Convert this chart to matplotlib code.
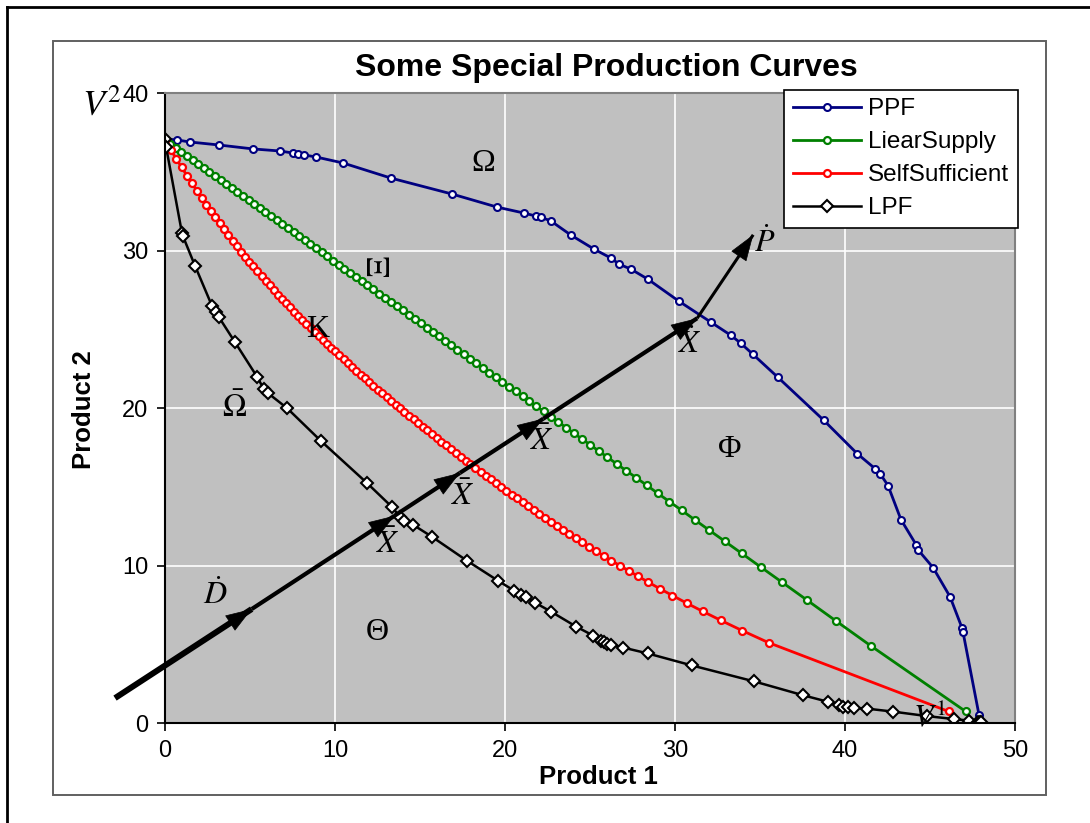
import matplotlib
matplotlib.use('Agg')
import matplotlib.pyplot as plt
from matplotlib.lines import Line2D
from matplotlib.patches import Rectangle

plt.rcParams['font.family'] = ['Liberation Sans', 'DejaVu Sans']
plt.rcParams['mathtext.fontset'] = 'stix'

# PPF (navy)
ppf_x = [0.0, 0.71, 1.47, 3.18, 5.18, 6.76, 7.53, 7.82, 8.18, 8.88, 10.47, 13.29, 16.88, 19.53,
         21.12, 21.82, 22.12, 22.71, 23.88, 25.24, 26.24, 26.71, 27.41, 28.41, 30.24, 32.12,
         33.29, 33.88, 34.59, 36.06, 38.76, 40.71, 41.76, 42.06, 42.53, 43.29, 44.18, 44.29,
         45.18, 46.18, 46.88, 46.94, 47.88]
ppf_y = [37.08, 37.02, 36.89, 36.70, 36.45, 36.32, 36.19, 36.13, 36.07, 35.94, 35.56, 34.60,
         33.59, 32.76, 32.38, 32.19, 32.12, 31.87, 30.98, 30.09, 29.52, 29.14, 28.82, 28.18,
         26.78, 25.45, 24.62, 24.11, 23.41, 21.95, 19.22, 17.12, 16.17, 15.85, 15.09, 12.93,
         11.34, 11.02, 9.88, 8.03, 6.06, 5.80, 0.55]

# LiearSupply (green)
lin_x = [0.0, 0.30, 0.63, 0.96, 1.29, 1.62, 1.95, 2.28, 2.61, 2.94, 3.27, 3.60, 3.93, 4.26, 4.59,
         4.92, 5.25, 5.58, 5.91, 6.24, 6.57, 6.90, 7.23, 7.56, 7.89, 8.22, 8.55, 8.88, 9.21,
         9.54, 9.87, 10.21, 10.55, 10.89, 11.23, 11.57, 11.91, 12.25, 12.59, 12.93, 13.28,
         13.63, 13.98, 14.33, 14.68, 15.03, 15.39, 15.75, 16.11, 16.47, 16.83, 17.20, 17.57,
         17.94, 18.31, 18.69, 19.07, 19.45, 19.84, 20.23, 20.63, 21.03, 21.44, 21.85, 22.27,
         22.70, 23.14, 23.59, 24.05, 24.52, 25.00, 25.50, 26.02, 26.56, 27.12, 27.71, 28.33,
         28.98, 29.67, 30.40, 31.18, 32.02, 32.93, 33.93, 35.04, 36.30, 37.75, 39.45, 41.50,
         47.10]
lin_y = [37.0, 36.77, 36.51, 36.26, 36.00, 35.75, 35.49, 35.24, 34.98, 34.73, 34.47, 34.22,
         33.96, 33.71, 33.45, 33.20, 32.94, 32.69, 32.43, 32.18, 31.92, 31.67, 31.41, 31.16,
         30.90, 30.65, 30.39, 30.14, 29.88, 29.63, 29.37, 29.11, 28.85, 28.58, 28.32, 28.06,
         27.80, 27.53, 27.27, 27.01, 26.74, 26.47, 26.20, 25.93, 25.66, 25.38, 25.11, 24.83,
         24.55, 24.27, 23.99, 23.71, 23.42, 23.14, 22.85, 22.56, 22.26, 21.97, 21.67, 21.37,
         21.06, 20.75, 20.43, 20.11, 19.79, 19.46, 19.12, 18.77, 18.41, 18.05, 17.68, 17.29,
         16.89, 16.47, 16.04, 15.59, 15.11, 14.60, 14.07, 13.51, 12.90, 12.25, 11.55, 10.78,
         9.92, 8.95, 7.83, 6.51, 4.93, 0.75]

# SelfSufficient (red)
self_x = [0.0, 0.33, 0.66, 0.98, 1.29, 1.59, 1.88, 2.16, 2.43, 2.70, 2.96, 3.22, 3.48, 3.73,
          3.98, 4.23, 4.48, 4.72, 4.96, 5.20, 5.44, 5.68, 5.92, 6.16, 6.40, 6.64, 6.88, 7.12,
          7.36, 7.60, 7.84, 8.08, 8.32, 8.56, 8.80, 9.04, 9.28, 9.52, 9.76, 10.00, 10.25,
          10.50, 10.75, 11.00, 11.25, 11.50, 11.75, 12.00, 12.26, 12.52, 12.78, 13.04, 13.30,
          13.56, 13.82, 14.08, 14.35, 14.62, 14.89, 15.16, 15.43, 15.70, 15.98, 16.26, 16.54,
          16.82, 17.10, 17.39, 17.68, 17.97, 18.26, 18.56, 18.86, 19.16, 19.46, 19.77, 20.08,
          20.39, 20.71, 21.03, 21.35, 21.68, 22.01, 22.35, 22.69, 23.04, 23.40, 23.77, 24.15,
          24.54, 24.94, 25.36, 25.80, 26.26, 26.75, 27.27, 27.83, 28.44, 29.11, 29.85, 30.68,
          31.62, 32.70, 33.96, 35.50, 46.10]
self_y = [37.0, 36.41, 35.83, 35.28, 34.76, 34.26, 33.79, 33.35, 32.92, 32.51, 32.11, 31.72,
          31.34, 30.98, 30.63, 30.28, 29.94, 29.62, 29.30, 28.99, 28.68, 28.38, 28.08, 27.79,
          27.50, 27.21, 26.93, 26.66, 26.39, 26.12, 25.85, 25.59, 25.34, 25.08, 24.83, 24.58,
          24.33, 24.08, 23.84, 23.60, 23.35, 23.10, 22.86, 22.62, 22.37, 22.13, 21.89, 21.66,
          21.42, 21.17, 20.94, 20.70, 20.46, 20.23, 19.99, 19.77, 19.53, 19.30, 19.06, 18.82,
          18.59, 18.36, 18.12, 17.88, 17.64, 17.40, 17.16, 16.92, 16.67, 16.44, 16.21, 15.96,
          15.72, 15.48, 15.24, 15.00, 14.76, 14.52, 14.27, 14.03, 13.79, 13.54, 13.29, 13.04,
          12.79, 12.54, 12.28, 12.02, 11.76, 11.48, 11.21, 10.93, 10.63, 10.33, 10.01, 9.68,
          9.33, 8.95, 8.54, 8.11, 7.63, 7.11, 6.53, 5.88, 5.12, 0.75]

# LPF (black diamonds)
lpf_x = [0.0, 0.06, 1.0, 1.06, 1.76, 2.76, 3.0, 3.18, 4.12, 5.41, 5.82, 6.06, 7.18, 9.18, 11.88,
         13.35, 13.82, 14.06, 14.59, 15.7, 17.76, 19.59, 20.53, 20.94, 21.24, 21.76, 22.7,
         24.18, 25.18, 25.65, 25.82, 26.0, 26.24, 26.94, 28.41, 31.0, 34.65, 37.5, 38.98,
         39.67, 39.9, 40.2, 40.53, 41.3, 42.84, 44.8, 46.4, 47.3, 47.8, 47.94, 48.0]
lpf_y = [37.1, 36.6, 31.1, 30.9, 29.05, 26.5, 26.1, 25.76, 24.18, 22.0, 21.2, 20.95, 20.0, 17.91,
         15.25, 13.73, 13.1, 12.85, 12.6, 11.84, 10.32, 9.05, 8.42, 8.16, 8.04, 7.66, 7.09,
         6.14, 5.57, 5.25, 5.13, 5.06, 5.0, 4.81, 4.43, 3.67, 2.66, 1.79, 1.37, 1.16, 1.06,
         1.01, 0.99, 0.93, 0.74, 0.46, 0.27, 0.17, 0.10, 0.06, 0.08]

# growth path arrow (D -> X -> P), each segment ends in an arrowhead
path_x = [-2.94, 5.1, 13.5, 17.35, 22.25, 31.3, 34.6]
path_y = [1.6, 7.25, 13.17, 15.89, 19.33, 25.7, 31.0]
path_lw = [4.3, 3.0, 3.0, 3.0, 3.0, 2.2]

fig = plt.figure(figsize=(10.9, 8.23), dpi=100)
ax = fig.add_axes([165 / 1090, 1 - 723.3 / 823, 850 / 1090, 630.3 / 823])
ax.set_facecolor('#C0C0C0')

ax.plot(ppf_x, ppf_y, '-o', color='#000080', lw=2, ms=5, mfc='white', mew=1.5, label='PPF')
ax.plot(lin_x, lin_y, '-o', color='#008000', lw=2, ms=5, mfc='white', mew=1.6, label='LiearSupply')
ax.plot(self_x, self_y, '-o', color='#FF0000', lw=2, ms=5, mfc='white', mew=1.6, label='SelfSufficient')
ax.plot(lpf_x, lpf_y, '-D', color='black', lw=1.8, ms=6, mfc='white', mew=1.5, label='LPF')

for i in range(len(path_lw)):
    x0, y0, x1, y1 = path_x[i], path_y[i], path_x[i + 1], path_y[i + 1]
    ax.plot([x0, x1], [y0, y1], color='black', lw=path_lw[i], clip_on=False,
            solid_capstyle='butt', zorder=5)
    ax.annotate('', xy=(x1, y1), xytext=(x1 - 0.02 * (x1 - x0), y1 - 0.02 * (y1 - y0)),
                arrowprops=dict(arrowstyle='-|>,head_length=0.8,head_width=0.28', lw=0.5,
                                color='black', mutation_scale=22, shrinkA=0, shrinkB=0),
                annotation_clip=False, zorder=6)

ax.set_xlim(0, 50)
ax.set_ylim(0, 40)
ax.set_xticks(range(0, 51, 10))
ax.set_yticks(range(0, 41, 10))
ax.grid(True, color='white', lw=1.2)
ax.set_axisbelow(True)
ax.tick_params(labelsize=17, length=6, width=1.2, direction='out', pad=6)
for s in ['top', 'right']:
    ax.spines[s].set_color('#808080')
    ax.spines[s].set_linewidth(1.5)
for s in ['left', 'bottom']:
    ax.spines[s].set_linewidth(1.5)

ser = ['Liberation Serif', 'DejaVu Serif']
gsize = 23
ax.text(18.7, 35.5, 'Ω', family=ser, fontsize=gsize, ha='center', va='center')
ax.text(12.76, 28.95, r'$\Xi$', fontsize=gsize + 1, ha='center', va='center', rotation=90)
ax.text(9.0, 25.0, 'Κ', family=ser, fontsize=gsize, ha='center', va='center')
ax.text(4.1, 20.0, r'$\bar{\Omega}$', fontsize=gsize, ha='center', va='center')
ax.text(33.2, 17.4, 'Φ', family=ser, fontsize=gsize, ha='center', va='center')
ax.text(12.5, 5.75, 'Θ', family=ser, fontsize=gsize, ha='center', va='center')
ax.text(2.94, 8.16, r'$\dot{D}$', fontsize=gsize, ha='center', va='center')
ax.text(13.1, 11.35, r'$\bar{X}$', fontsize=gsize, ha='center', va='center')
ax.text(17.5, 14.4, r'$\bar{X}$', fontsize=gsize, ha='center', va='center')
ax.text(22.2, 17.9, r'$\bar{X}$', fontsize=gsize, ha='center', va='center')
ax.text(30.9, 24.05, r'$\dot{X}$', fontsize=gsize, ha='center', va='center')
ax.text(35.3, 30.5, r'$\dot{P}$', fontsize=gsize, ha='center', va='center')
ax.text(-3.7, 39.2, r'$V^{2}$', fontsize=26, ha='center', va='center', clip_on=False)
ax.text(45.0, 0.4, r'$V^{1}$', fontsize=23, ha='center', va='center', clip_on=False)

leg = ax.legend(loc='upper right', bbox_to_anchor=(1.003, 1.005), fontsize=17.5, frameon=True,
                fancybox=False, edgecolor='black', framealpha=1, borderpad=0.35,
                labelspacing=0.45, handlelength=2.8, handletextpad=0.3, borderaxespad=0)
leg.get_frame().set_linewidth(1.2)

fig.text(606 / 1090, 1 - 68 / 823, 'Some Special Production Curves', fontsize=23,
         fontweight='bold', ha='center', va='center')
fig.text(598 / 1090, 1 - 777 / 823, 'Product 1', fontsize=18.5, fontweight='bold',
         ha='center', va='center')
fig.text(84 / 1090, 1 - 410 / 823, 'Product 2', fontsize=18.5, fontweight='bold',
         ha='center', va='center', rotation=90)

# chart area frame and outer frame
fig.add_artist(Rectangle((53 / 1090, 1 - 795 / 823), 993 / 1090, 754 / 823,
                         transform=fig.transFigure, fill=False, edgecolor='#606060', lw=1.4))
fig.add_artist(Line2D([7 / 1090, 7 / 1090], [0, 1 - 7 / 823], transform=fig.transFigure,
                      color='black', lw=2))
fig.add_artist(Line2D([7 / 1090, 1], [1 - 7 / 823, 1 - 7 / 823], transform=fig.transFigure,
                      color='black', lw=2))

fig.savefig('out.png', dpi=100)
